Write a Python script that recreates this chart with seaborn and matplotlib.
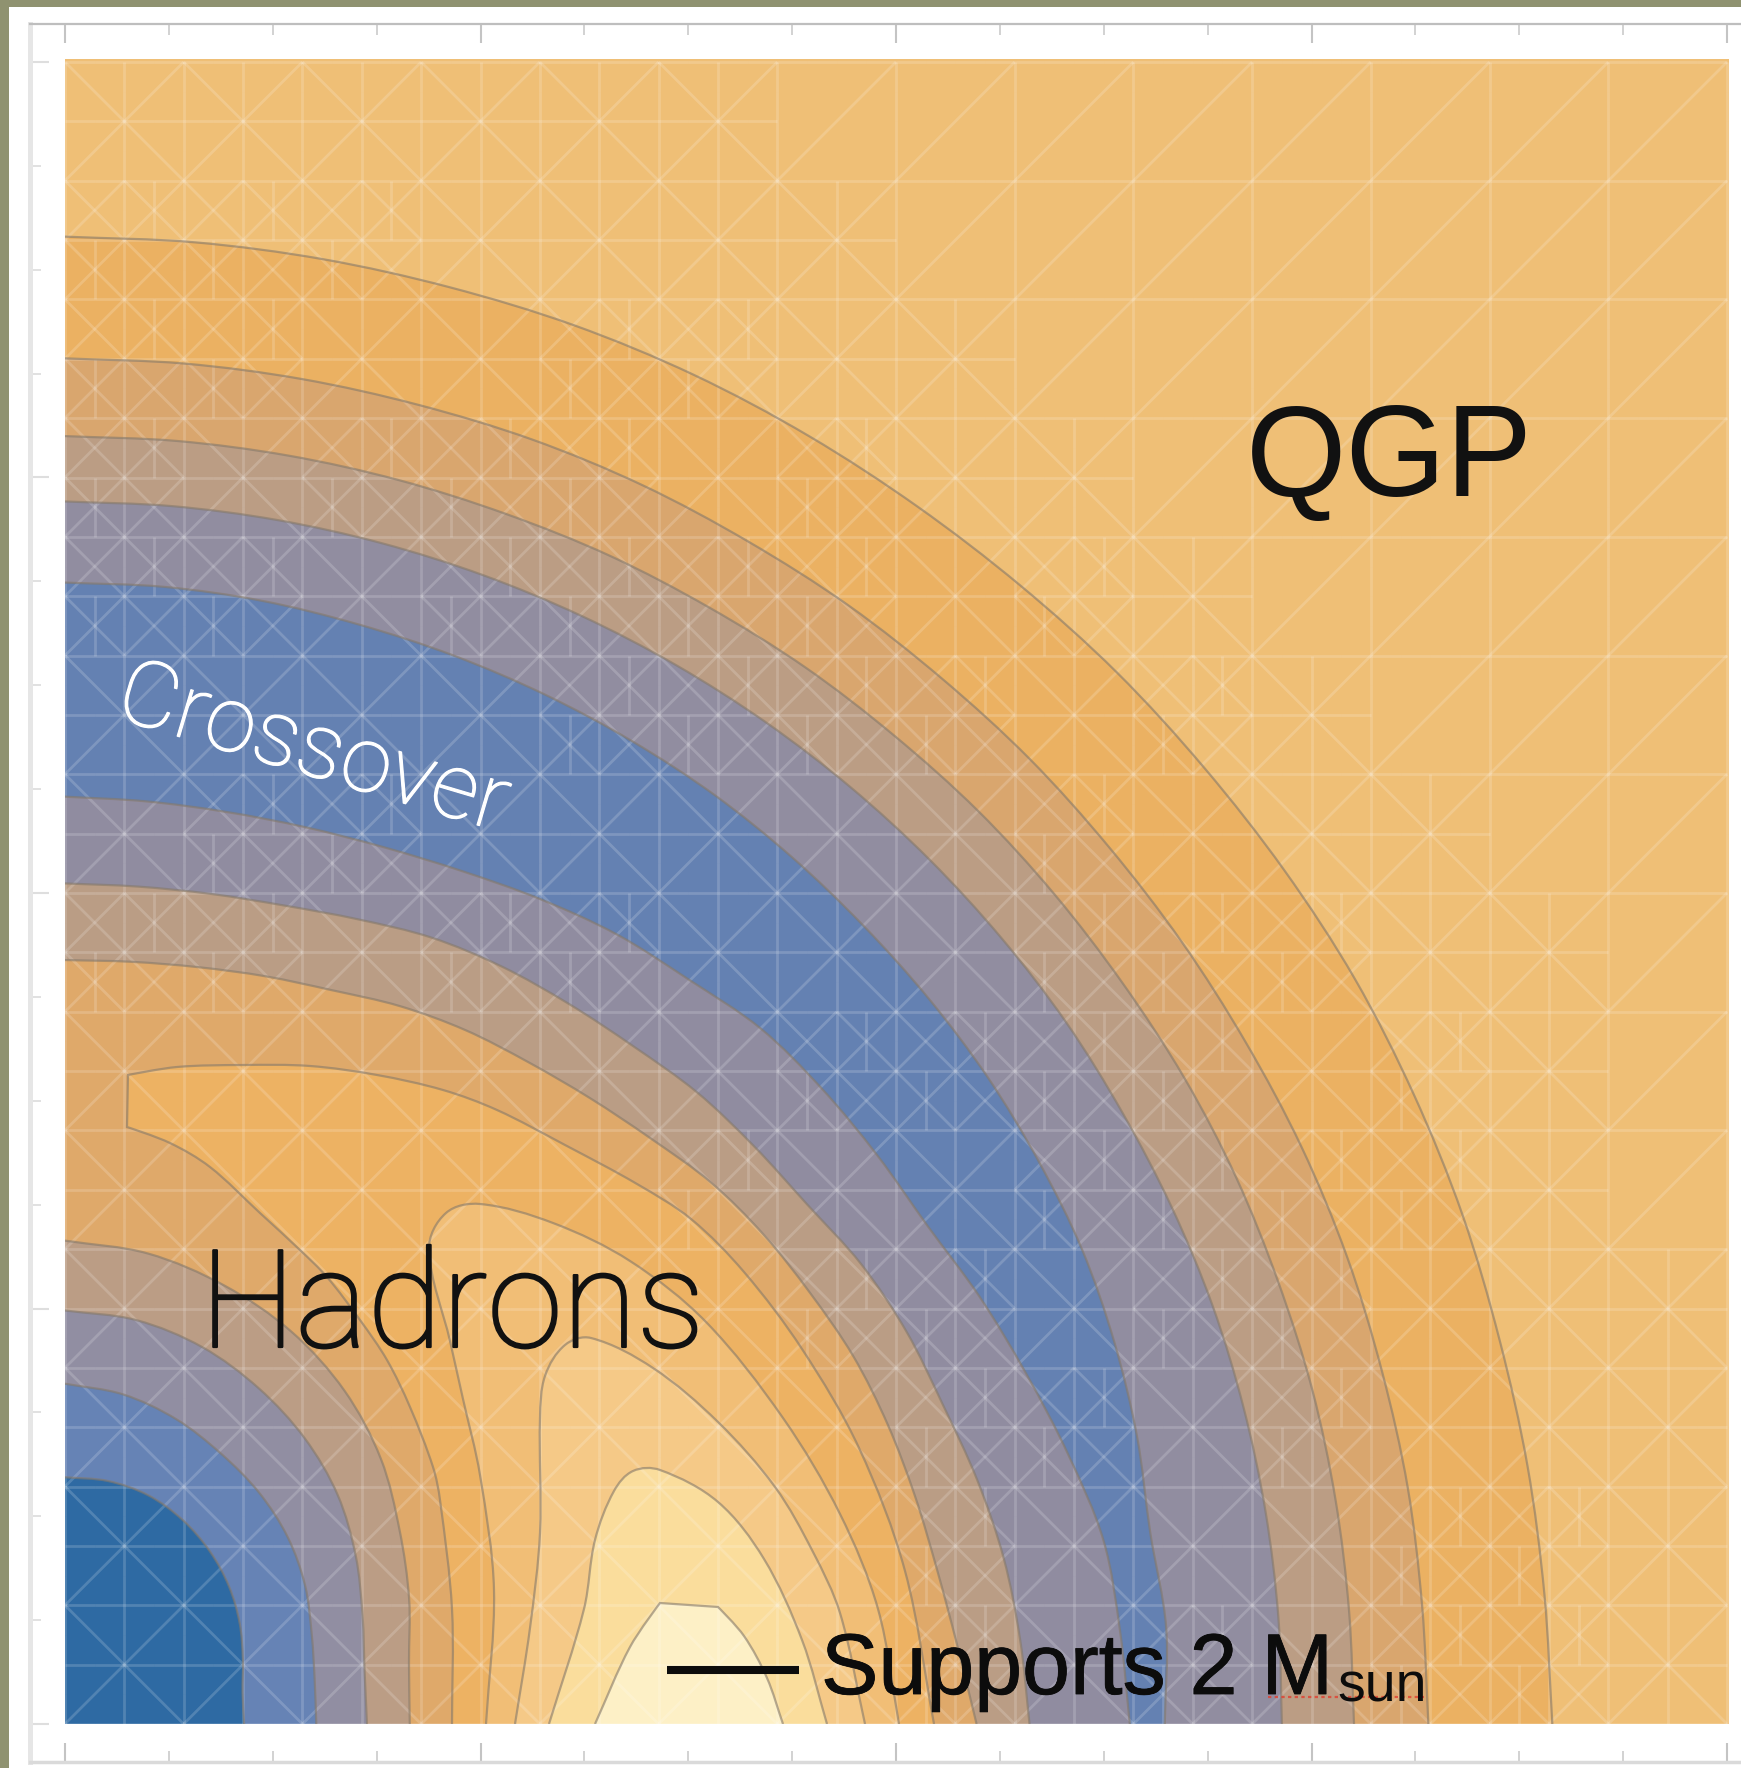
import numpy as np
import matplotlib
matplotlib.use("Agg")
import matplotlib.pyplot as plt
import matplotlib.patheffects as pe
from matplotlib.collections import LineCollection
from matplotlib.patches import Rectangle, PathPatch
from matplotlib.path import Path
import seaborn as sns

W, H = 1741, 1768
sns.set_theme(style="white")
plt.rcParams['font.family'] = ['Liberation Sans', 'DejaVu Sans']

# Contour radii (chart units / 368.75) read at 5 degree steps from the x axis
angles_outer = np.arange(0, 91, 5)
ring_a = [1320,1318,1318,1318,1320,1321,1322,1321,1320,1320,1319,1319,1320,1321,1321,1320,1320,1320,1320]
ring_b = [1210,1209,1210,1210,1211,1211,1210,1210,1210,1211,1211,1212,1212,1213,1213,1212,1212,1212,1212]
ring_c = [1144,1144,1145,1146,1146,1147,1147,1146,1146,1146,1145,1145,1144,1144,1143,1143,1143,1143,1143]
ring_d = [1080,1081,1082,1083,1084,1084,1084,1085,1085,1085,1085,1085,1085,1085,1085,1085,1085,1085,1085]
ring_e = [976,981,978,985,991,996,998,1000,1001,1002,1004,1006,1007,1008,1009,1010,1012,1013,1013]
ring_f = [945,940,936,922,908,896,884,880,877,873,862,855,845,835,828,824,822,822,823]
ring_g = [856,851,846,838,829,824,816,804,798,793,785,780,776,770,760,752,748,746,746]
ring_h = [809,795,786,781,777,772,764,757,748,735,725,717,711,703,693,687,682,679,678]

# Inner rings around the origin, 10 degree steps
angles_inner = np.arange(0, 91, 10)
ring_r1 = [306,310,325,343,366,386,402,414,424,429]
ring_r2 = [268,270,281,298,316,331,344,356,364,367]
ring_r3 = [223,225,233,246,258,268,277,288,297,302]
ring_r4 = [159,160,168,179,190,200,209,216,219,219]

# Closed lobes near the bottom (reference pixel readings)
lobe1_x = [452,452,440,433,410,387,360,327,300,260,210,170,127,128,177,243,310,377,443,497,565,637,691,744,802,859,905,934]
lobe1_y = [1724,1609,1500,1467,1407,1360,1320,1277,1250,1213,1167,1143,1127,1075,1067,1065,1066,1075,1090,1110,1145,1184,1219,1272,1349,1448,1571,1724]
lobe2_x = [486,494,480,463,450,429,446,480,553,630,706,783,840,878,899]
lobe2_y = [1724,1590,1475,1399,1341,1249,1213,1204,1223,1261,1322,1418,1514,1609,1724]
lobe3_x = [515,530,540,540,545,565,591,653,718,775,813,840,865]
lobe3_y = [1724,1628,1533,1418,1376,1345,1338,1368,1422,1487,1552,1613,1724]
lobe4_x = [549,584,595,614,633,660,718,764,802,827]
lobe4_y = [1724,1609,1540,1491,1471,1470,1502,1559,1640,1724]
lobe5_x = [595,630,660,718,744,767,783]
lobe5_y = [1724,1647,1603,1607,1636,1678,1724]
lobe_corners = [(12, 13), (), (), (), (2, 3)]

C_BG = '#EFBF76'
ring_colors = ['#EBB162', '#D9A66E', '#BB9D84', '#918DA0', '#6481B2', '#908CA0', '#BA9D85', '#DFA96A']
lobe_colors = ['#EDB263', '#F1BE76', '#F5C987', '#FADD9C', '#FDF0C6']
inner_colors = ['#BB9D85', '#918EA2', '#6683B5', '#2E6AA3']
EDGE = '#85796A'
MESH_STEP = 1662 / 14


def fx(px):
    return (np.asarray(px, float) - 65) / 415.5


def fy(py):
    return (1724 - np.asarray(py, float)) / 415.5


def polar(radii, angles):
    r = np.asarray(radii, float) / 368.75
    t = np.radians(angles)
    return r * np.cos(t), r * np.sin(t)


def curve(x, y, corners=()):
    """Bezier path passing through the read points, with bounded handles."""
    p = np.column_stack([x, y])
    n = len(p)
    tang = np.zeros_like(p)
    tang[1:-1] = p[2:] - p[:-2]
    tang[0] = p[1] - p[0]
    tang[-1] = p[-1] - p[-2]
    tang /= np.maximum(np.linalg.norm(tang, axis=1, keepdims=True), 1e-9)
    for k in corners:
        tang[k] = 0
    verts = [p[0]]
    codes = [Path.MOVETO]
    for i in range(n - 1):
        h = np.linalg.norm(p[i + 1] - p[i]) / 3
        verts += [p[i] + tang[i] * h, p[i + 1] - tang[i + 1] * h, p[i + 1]]
        codes += [Path.CURVE4] * 3
    return np.array(verts), codes


def draw_band(ax, x, y, col, from_origin, corners=()):
    v, c = curve(x, y, corners)
    ring_path = Path(v, c)
    if from_origin:
        vf = np.vstack([[0, 0], [v[0]], v[1:], [0, 0]])
        cf = [Path.MOVETO, Path.LINETO] + c[1:] + [Path.CLOSEPOLY]
    else:
        vf = np.vstack([v, v[0]])
        cf = c + [Path.CLOSEPOLY]
    ax.add_patch(PathPatch(Path(vf, cf), facecolor=col, edgecolor='none', lw=0, zorder=1))
    return ring_path


fig = plt.figure(figsize=(W / 100, H / 100), dpi=100, facecolor='white')

# Olive mat round the picture
fig.add_artist(Rectangle((0, 1 - 7 / H), 1, 7 / H, transform=fig.transFigure, color='#8F9270', lw=0))
fig.add_artist(Rectangle((0, 0), 9 / W, 1, transform=fig.transFigure, color='#8F9270', lw=0))

# Outer frame carrying the ticks
L, T, B = 30, 24, 1762
frame = fig.add_axes([L / W, (H - B) / H, (W - L) / W, (B - T) / H], facecolor='white')
frame.set_xlim(fx(L), fx(W))
frame.set_ylim(fy(B), fy(T))
major = np.arange(0, 5)
minor = np.arange(0, 4.01, 0.25)
frame.set_xticks(major)
frame.set_yticks(major)
frame.set_xticks(minor, minor=True)
frame.set_yticks(minor, minor=True)
frame.tick_params(which='major', direction='in', length=14, width=1.5, color='#C4C4C4',
                  top=True, bottom=True, left=True, right=False,
                  labeltop=False, labelbottom=False, labelleft=False)
frame.tick_params(which='minor', direction='in', length=8, width=1.3, color='#CFCFCF',
                  top=True, bottom=True, left=True, right=False)
frame.tick_params(axis='y', which='both', color='#DEDEDE')
frame.spines['right'].set_visible(False)
frame.spines['top'].set_color('#BEBEBE')
frame.spines['top'].set_linewidth(1.6)
frame.spines['left'].set_color('#E6E6E6')
frame.spines['left'].set_linewidth(3.6)
frame.spines['bottom'].set_color('#DADADA')
frame.spines['bottom'].set_linewidth(2.5)

# Main panel
ax = fig.add_axes([65 / W, (H - 1724) / H, 1664 / W, 1665 / H], facecolor=C_BG)
ax.set_xlim(0, 1664 / 415.5)
ax.set_ylim(0, 1665 / 415.5)
ax.set_xticks([])
ax.set_yticks([])
for s in ax.spines.values():
    s.set_visible(False)

outer = [ring_a, ring_b, ring_c, ring_d, ring_e, ring_f, ring_g, ring_h]
inner = [ring_r1, ring_r2, ring_r3, ring_r4]
lobes = [(lobe1_x, lobe1_y), (lobe2_x, lobe2_y), (lobe3_x, lobe3_y), (lobe4_x, lobe4_y), (lobe5_x, lobe5_y)]

boundaries = []
for radii, col in zip(outer, ring_colors):
    boundaries.append(draw_band(ax, *polar(radii, angles_outer), col, True))
for (lx, ly), col, cor in zip(lobes, lobe_colors, lobe_corners):
    boundaries.append(draw_band(ax, fx(lx), fy(ly), col, False, cor))
for radii, col in zip(inner, inner_colors):
    boundaries.append(draw_band(ax, *polar(radii, angles_inner), col, True))

# Adaptive sampling mesh of the original plot, as a decoration
segs = set()
step = MESH_STEP / 415.5
piece = step / 4


def add(x0, y0, x1, y1):
    a = (round(x0 / piece) * piece, round(y0 / piece) * piece)
    b = (round(x1 / piece) * piece, round(y1 / piece) * piece)
    segs.add((a, b) if a < b else (b, a))


def axis_line(x0, y0, x1, y1):
    n = int(round(max(abs(x1 - x0), abs(y1 - y0)) / piece))
    for k in range(n):
        add(x0 + (x1 - x0) * k / n, y0 + (y1 - y0) * k / n,
            x0 + (x1 - x0) * (k + 1) / n, y0 + (y1 - y0) * (k + 1) / n)


def box(x, y, s):
    axis_line(x, y, x + s, y)
    axis_line(x, y, x, y + s)
    axis_line(x + s, y, x + s, y + s)
    axis_line(x, y + s, x + s, y + s)


def cell(x, y, s):
    box(x, y, s)
    m = s / 2
    axis_line(x + m, y, x + m, y + s)
    axis_line(x, y + m, x + s, y + m)
    add(x, y, x + s, y + s)
    add(x, y + s, x + s, y)


def fine_cell(x, y, s):
    m = s / 2
    for a in (0, m):
        for b in (0, m):
            box(x + a, y + b, m)
            add(x + a, y + b, x + a + m, y + b + m)
            add(x + a, y + b + m, x + a + m, y + b)
    axis_line(x + m / 2, y, x + m / 2, y + m)
    axis_line(x + 3 * m / 2, y + m, x + 3 * m / 2, y + s)


rad_tables = [np.asarray(r, float) for r in outer]
for i in range(14):
    for j in range(14):
        x0, y0 = i * step, j * step
        cx, cy = x0 + step / 2, y0 + step / 2
        rr = np.hypot(cx, cy) * 368.75
        ang = np.degrees(np.arctan2(cy, cx))
        dist = min(abs(rr - np.interp(ang, angles_outer, t)) for t in rad_tables)
        if rr > 1320 + 170 and cx > 1.6:
            box(x0, y0, step)
            add(x0, y0, x0 + step, y0 + step)
        elif dist < 24 and rr > 650:
            fine_cell(x0, y0, step)
        else:
            cell(x0, y0, step)

ax.add_collection(LineCollection([list(s) for s in segs], colors='white', alpha=0.17,
                                 linewidths=2.0, capstyle='butt', zorder=2))

# Contour lines
for path in boundaries:
    ax.add_patch(PathPatch(path, facecolor='none', edgecolor=EDGE, alpha=0.6, lw=1.6, zorder=3))

# Labels
dark = '#111111'
ax.text(fx(1246), fy(496), 'QGP', fontsize=93, color=dark, ha='left', va='baseline', zorder=5)
ax.text(fx(200), fy(1347), 'Hadrons', fontsize=98, color=dark, ha='left', va='baseline', zorder=5,
        family=['Roboto', 'Liberation Sans'], fontweight='light',
        path_effects=[pe.withStroke(linewidth=1.6, foreground=dark)])
ax.text(fx(313), fy(750), 'Crossover', fontsize=66, color='white', ha='center', va='center',
        rotation=-16.5, rotation_mode='anchor', zorder=5,
        family=['Roboto', 'Liberation Sans'], fontweight='light',
        path_effects=[pe.withStroke(linewidth=0.9, foreground='white')])

sns.lineplot(x=fx([667, 799]), y=fy([1670, 1670]), ax=ax, color='#0C0C0C', linewidth=5.8,
             legend=False, zorder=5, solid_capstyle='butt')
ax.text(fx(821), fy(1694), 'Supports 2 M', fontsize=62, color='#0C0C0C', ha='left', va='baseline',
        zorder=5, path_effects=[pe.withStroke(linewidth=0.6, foreground='#0C0C0C')])
ax.text(fx(1337), fy(1701), 'sun', fontsize=40, color='#0C0C0C', ha='left', va='baseline', zorder=5)
ax.plot(fx([1268, 1424]), fy([1697, 1697]), color='#E04030', lw=1.6, ls=(0, (1.5, 1.5)), alpha=0.8, zorder=4)

fig.savefig('out.png', dpi=100, facecolor='white')
